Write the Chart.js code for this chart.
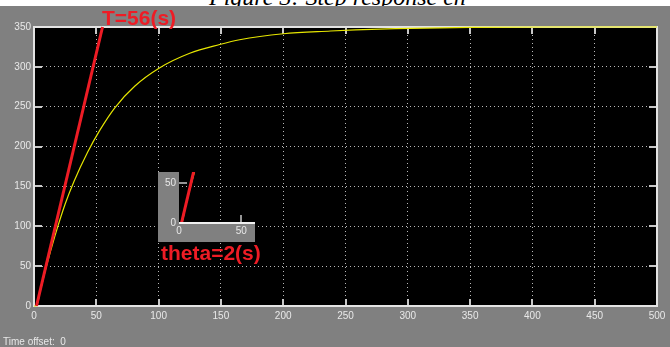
<!DOCTYPE html>
<html>
<head>
<meta charset="utf-8">
<script src="https://cdn.jsdelivr.net/npm/chart.js@4"></script>
<style>
    body { margin: 0; background: #808080; }
    #wrap { position: relative; width: 670px; height: 347px; overflow: hidden; background: #808080; }
    #main { position: absolute; left: 0; top: 0; }
    #inset { position: absolute; left: 158px; top: 172px; }
    #caption { position: absolute; left: 0; top: 0; width: 670px; height: 6px; background: #fff; overflow: hidden; }
    #caption span { position: absolute; left: 209px; top: -15px; font: italic 24px/24px "Liberation Serif", serif; color: #000; white-space: nowrap; }
    .note { position: absolute; font: bold 21px/21px "Liberation Sans", Arial, sans-serif; color: #ee1c25; white-space: nowrap; }
    #offset { position: absolute; left: 3px; top: 337px; font: 10px/10px "Liberation Sans", Arial, sans-serif; color: #e8e8e8; white-space: pre; }
</style>
</head>
<body>
<div id="wrap">
    <canvas id="main" width="670" height="347"></canvas>
    <canvas id="inset" width="97" height="70"></canvas>
    <div id="caption"><span>Figure 3: Step response ch</span></div>
    <div class="note" style="left:102px; top:7px;">T=56(s)</div>
    <div class="note" style="left:161px; top:242px;">theta=2(s)</div>
    <div id="offset">Time offset:  0</div>
</div>
<script>
// valores
const curveTime = [0, 2, 5, 10, 17, 25, 32, 43, 53, 65, 81, 100, 125, 149, 165, 200, 238, 258, 290, 350, 420, 500];
const curveValue = [0, 0, 19, 50, 89, 128, 156, 193, 221, 249, 276, 298, 317, 328, 334, 341.5, 345, 346.5, 348, 349.5, 350, 350];
const tangentTime = [2, 55];
const tangentValue = [0, 350];
const xTicks = [0, 50, 100, 150, 200, 250, 300, 350, 400, 450, 500];
const yTicks = [0, 50, 100, 150, 200, 250, 300, 350];
const insetTicks = [0, 50];

const toPoints = (xs, ys) => xs.map((x, i) => ({x: x, y: ys[i]}));
const tickFont = {family: '"Liberation Sans", Arial, sans-serif', size: 10};

// fundo preto, moldura e marcas internas estilo scope
const scopeFrame = {
    id: 'scopeFrame',
    beforeDraw(chart) {
        const {ctx, chartArea: a} = chart;
        ctx.save();
        ctx.fillStyle = '#000';
        ctx.fillRect(a.left, a.top, a.right - a.left, a.bottom - a.top);
        ctx.restore();
    },
    beforeDatasetsDraw(chart) {
        const {ctx, chartArea: a, scales} = chart;
        ctx.save();
        ctx.strokeStyle = '#c8c8c8';
        ctx.lineWidth = 2;
        ctx.beginPath();
        xTicks.forEach(v => {
            const px = Math.round(scales.x.getPixelForValue(v));
            ctx.moveTo(px, a.top); ctx.lineTo(px, a.top + 7);
            ctx.moveTo(px, a.bottom); ctx.lineTo(px, a.bottom - 7);
        });
        yTicks.forEach(v => {
            const py = Math.round(scales.y.getPixelForValue(v));
            ctx.moveTo(a.left, py); ctx.lineTo(a.left + 8, py);
            ctx.moveTo(a.right, py); ctx.lineTo(a.right - 8, py);
        });
        ctx.stroke();
        ctx.strokeStyle = '#e4e4e4';
        ctx.strokeRect(a.left, a.top, a.right - a.left, a.bottom - a.top);
        ctx.restore();
    }
};

new Chart(document.getElementById('main'), {
    type: 'line',
    data: {
        datasets: [{
            data: toPoints(tangentTime, tangentValue),
            borderColor: '#ee1c25',
            borderWidth: 3,
            pointRadius: 0,
            clip: 3
        }, {
            data: toPoints(curveTime, curveValue),
            borderColor: '#e6e600',
            borderWidth: 1.2,
            pointRadius: 0,
            cubicInterpolationMode: 'monotone',
            clip: 3
        }]
    },
    options: {
        responsive: false,
        animation: false,
        devicePixelRatio: 1,
        layout: {padding: {top: 27, right: 13, left: 0, bottom: 0}},
        plugins: {legend: {display: false}, tooltip: {enabled: false}},
        scales: {
            x: {
                type: 'linear', min: 0, max: 500,
                afterBuildTicks: s => { s.ticks = xTicks.map(v => ({value: v})); },
                afterFit: s => { s.height = 41; },
                ticks: {color: '#e8e8e8', font: tickFont, padding: 4, maxRotation: 0},
                grid: {color: '#b8b8b8', lineWidth: 1, drawTicks: false},
                border: {display: false, dash: [1, 3]}
            },
            y: {
                type: 'linear', min: 0, max: 350,
                afterBuildTicks: s => { s.ticks = yTicks.map(v => ({value: v})); },
                afterFit: s => { s.width = 34; },
                ticks: {color: '#e8e8e8', font: tickFont, padding: 3},
                grid: {color: '#b8b8b8', lineWidth: 1, drawTicks: false},
                border: {display: false, dash: [1, 3]}
            }
        }
    },
    plugins: [scopeFrame]
});

// janela ampliada perto da origem
const insetBox = {
    id: 'insetBox',
    beforeDraw(chart) {
        const {ctx, chartArea: a, width, height} = chart;
        ctx.save();
        ctx.fillStyle = '#808080';
        ctx.fillRect(0, 0, a.left, height);
        ctx.fillRect(0, a.bottom, width, height - a.bottom);
        ctx.restore();
    },
    afterDraw(chart) {
        const {ctx, chartArea: a, scales} = chart;
        ctx.save();
        ctx.strokeStyle = '#c8c8c8';
        ctx.lineWidth = 1.5;
        ctx.beginPath();
        const px = Math.round(scales.x.getPixelForValue(50));
        ctx.moveTo(px, a.bottom); ctx.lineTo(px, a.bottom - 8);
        const py = Math.round(scales.y.getPixelForValue(50));
        ctx.moveTo(a.left, py); ctx.lineTo(a.left + 8, py);
        ctx.stroke();
        ctx.strokeStyle = '#f0f0f0';
        ctx.lineWidth = 2;
        ctx.beginPath();
        ctx.moveTo(a.left, a.bottom); ctx.lineTo(a.right, a.bottom);
        ctx.stroke();
        ctx.restore();
    }
};

new Chart(document.getElementById('inset'), {
    type: 'line',
    data: {
        datasets: [{
            data: toPoints(tangentTime, tangentValue),
            borderColor: '#ee1c25',
            borderWidth: 3,
            pointRadius: 0
        }, {
            data: toPoints(curveTime, curveValue),
            borderColor: '#e6e600',
            borderWidth: 1.2,
            pointRadius: 0,
            cubicInterpolationMode: 'monotone'
        }]
    },
    options: {
        responsive: false,
        animation: false,
        devicePixelRatio: 1,
        layout: {padding: 0},
        plugins: {legend: {display: false}, tooltip: {enabled: false}},
        scales: {
            x: {
                type: 'linear', min: 0, max: 61,
                afterBuildTicks: s => { s.ticks = insetTicks.map(v => ({value: v})); },
                afterFit: s => { s.height = 19; s.paddingLeft = 0; s.paddingRight = 0; },
                ticks: {color: '#e8e8e8', font: tickFont, padding: 2, maxRotation: 0},
                grid: {display: false, drawTicks: false},
                border: {display: false}
            },
            y: {
                type: 'linear', min: 0, max: 64,
                afterBuildTicks: s => { s.ticks = insetTicks.map(v => ({value: v})); },
                afterFit: s => { s.width = 21; s.paddingTop = 0; s.paddingBottom = 0; },
                ticks: {color: '#e8e8e8', font: tickFont, padding: 3},
                grid: {display: false, drawTicks: false},
                border: {display: false}
            }
        }
    },
    plugins: [insetBox]
});
</script>
</body>
</html>
